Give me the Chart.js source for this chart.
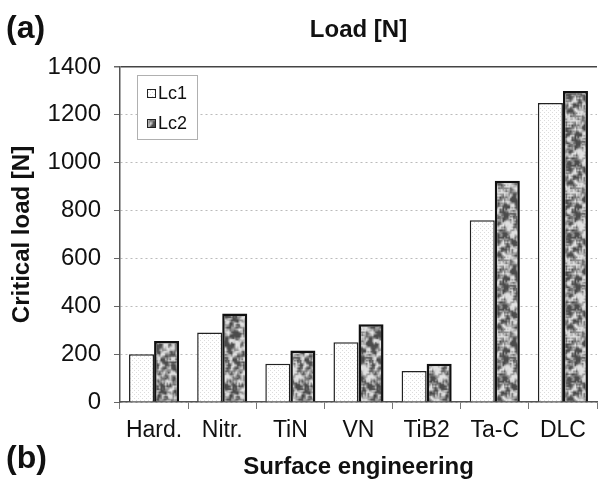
<!DOCTYPE html>
<html>
<head>
<meta charset="utf-8">
<script src="https://cdn.jsdelivr.net/npm/chart.js@4/dist/chart.umd.min.js"></script>
<style>
  html, body { margin: 0; padding: 0; background: #fff; }
</style>
</head>
<body>
<canvas id="myChart" width="598" height="482"></canvas>
<script>
// Datos: carga critica por tipo de superficie
const categories = ["Hard.", "Nitr.", "TiN", "VN", "TiB2", "Ta-C", "DLC"];
const lc1Values = [200, 290, 160, 250, 130, 760, 1250];
const lc2Values = [255, 370, 215, 325, 160, 925, 1300];
const yTicks = [0, 200, 400, 600, 800, 1000, 1200, 1400];

const FONT = '"Liberation Sans", Arial, sans-serif';
Chart.defaults.font.family = FONT;
Chart.defaults.color = "#111";

// Relleno punteado para Lc1
function dotPattern() {
  const c = document.createElement("canvas");
  c.width = 4; c.height = 4;
  const g = c.getContext("2d");
  g.fillStyle = "#fff";
  g.fillRect(0, 0, 4, 4);
  g.fillStyle = "#dcdcdc";
  g.fillRect(0, 0, 1, 1);
  g.fillRect(2, 2, 1, 1);
  return g.createPattern(c, "repeat");
}

// Relleno tipo granito para Lc2 (ruido suavizado con semilla fija)
function granitePattern() {
  const n = 48;
  const small = document.createElement("canvas");
  small.width = n; small.height = n;
  const g = small.getContext("2d");
  let seed = 98765;
  const rnd = () => (seed = (seed * 16807) % 2147483647) / 2147483647;
  const raw = [];
  for (let i = 0; i < n * n; i++) raw.push(rnd());
  const img = g.createImageData(n, n);
  for (let y = 0; y < n; y++) {
    for (let x = 0; x < n; x++) {
      let s = 0;
      for (let dy = -1; dy <= 1; dy++) {
        for (let dx = -1; dx <= 1; dx++) {
          s += raw[((y + dy + n) % n) * n + ((x + dx + n) % n)];
        }
      }
      let v = (s / 9 - 0.5) * 5 + 0.5;
      v = Math.max(0, Math.min(1, v));
      const gray = Math.round(75 + v * 150);
      const k = (y * n + x) * 4;
      img.data[k] = img.data[k + 1] = img.data[k + 2] = gray;
      img.data[k + 3] = 255;
    }
  }
  g.putImageData(img, 0, 0);
  // ampliado 1.5x para que las manchas tengan un tamano parecido al original
  const big = document.createElement("canvas");
  big.width = 72; big.height = 72;
  const bg = big.getContext("2d");
  bg.imageSmoothingEnabled = true;
  bg.drawImage(small, 0, 0, 72, 72);
  return bg.createPattern(big, "repeat");
}

// Leyenda con recuadro dentro del area del grafico
const boxLegend = {
  id: "boxLegend",
  afterDatasetsDraw(chart) {
    const { ctx, chartArea } = chart;
    const x = chartArea.left + 17, y = chartArea.top + 8, w = 60, h = 64;
    ctx.save();
    ctx.fillStyle = "#fff";
    ctx.fillRect(x, y, w, h);
    ctx.strokeStyle = "#b0b0b0";
    ctx.lineWidth = 1;
    ctx.strokeRect(x + 0.5, y + 0.5, w, h);
    chart.data.datasets.forEach((ds, i) => {
      const cy = y + 18 + i * 30;
      ctx.fillStyle = ds.backgroundColor;
      ctx.fillRect(x + 10, cy - 4, 8, 8);
      ctx.strokeStyle = "#222";
      ctx.lineWidth = 1;
      ctx.strokeRect(x + 10.5, cy - 3.5, 8, 8);
      ctx.fillStyle = "#111";
      ctx.font = "18px " + FONT;
      ctx.textBaseline = "middle";
      ctx.textAlign = "left";
      ctx.fillText(ds.label, x + 21, cy + 1);
    });
    ctx.restore();
  }
};

// Textos sueltos: (a), (b) y titulo superior
const extraText = {
  id: "extraText",
  afterDraw(chart) {
    const { ctx, chartArea } = chart;
    ctx.save();
    ctx.fillStyle = "#111";
    ctx.textBaseline = "middle";
    ctx.textAlign = "left";
    ctx.font = "bold 32px " + FONT;
    ctx.fillText("(a)", 6, 29);
    ctx.fillText("(b)", 6, 459);
    ctx.textAlign = "center";
    ctx.font = "bold 24px " + FONT;
    ctx.fillText("Load [N]", (chartArea.left + chartArea.right) / 2, 30);
    ctx.restore();
  }
};

const datasets = [
  {
    label: "Lc1",
    data: lc1Values,
    backgroundColor: dotPattern(),
    borderColor: "#222",
    borderWidth: 1.5
  },
  {
    label: "Lc2",
    data: lc2Values,
    backgroundColor: granitePattern(),
    borderColor: "#111",
    borderWidth: 2.5
  }
];

const config = {
  type: "bar",
  data: { labels: categories, datasets },
  options: {
    responsive: false,
    animation: false,
    layout: { padding: { top: 67, right: 1, left: 0, bottom: 0 } },
    categoryPercentage: 0.735,
    barPercentage: 1.0,
    plugins: {
      legend: { display: false },
      tooltip: { enabled: false }
    },
    scales: {
      x: {
        grid: {
          offset: true,
          drawOnChartArea: false,
          drawTicks: true,
          tickLength: 7,
          color: "#777"
        },
        border: { color: "#555", width: 1.5 },
        ticks: { font: { size: 23 }, padding: 8, color: "#111" },
        title: {
          display: true,
          text: "Surface engineering",
          font: { size: 24, weight: "bold" },
          padding: { top: 0, bottom: 0 }
        },
        afterFit(scale) { scale.height = 80; }
      },
      y: {
        min: 0,
        max: 1400,
        afterBuildTicks(scale) {
          scale.ticks = yTicks.map(v => ({ value: v }));
        },
        grid: {
          color: ctx => ctx.tick && ctx.tick.value === 1400 ? "#444" : "#bbb",
          lineWidth: ctx => ctx.tick && ctx.tick.value === 1400 ? 1.5 : 1,
          tickColor: "#666",
          tickLength: 6,
          tickBorderDash: []
        },
        border: {
          color: "#555",
          width: 1.5,
          dash: ctx => ctx.tick && ctx.tick.value === 1400 ? [] : [2, 3]
        },
        ticks: {
          font: { size: 24 },
          padding: 13,
          color: "#111",
          callback: v => String(v)
        },
        title: {
          display: true,
          text: "Critical load [N]",
          font: { size: 24, weight: "bold" },
          padding: { top: 8, bottom: 0 }
        },
        afterFit(scale) { scale.width = 120; }
      }
    }
  },
  plugins: [boxLegend, extraText]
};

new Chart(document.getElementById("myChart"), config);
</script>
</body>
</html>
